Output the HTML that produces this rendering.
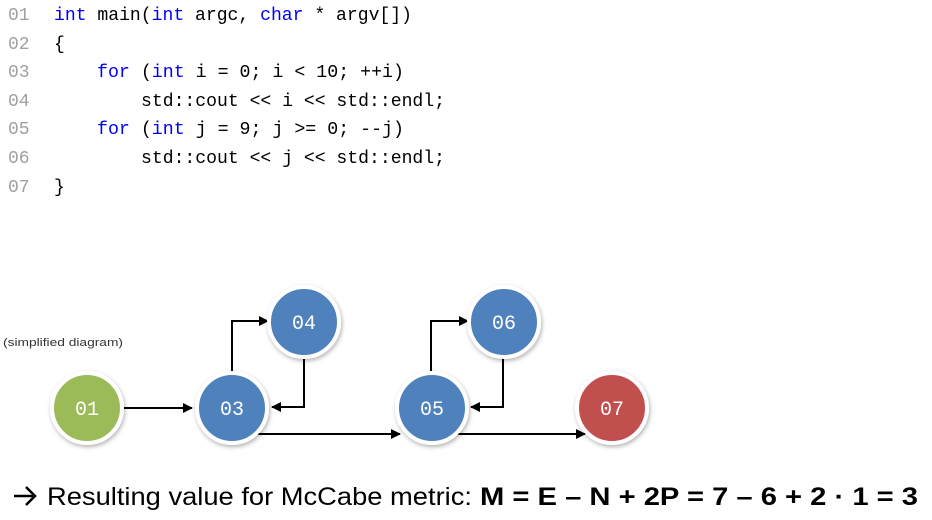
<!DOCTYPE html>
<html><head><meta charset="utf-8"><style>
html,body{margin:0;padding:0;background:#fff;width:932px;height:520px;overflow:hidden}
svg{display:block}
.code{font-family:"Liberation Mono",monospace;font-size:18px;fill:#000}
.ln{fill:#a0a0a0}
.kw{fill:#0000ff}
.nl{font-family:"Liberation Mono",monospace;font-size:20px;fill:#fff}
</style></head><body>
<svg width="932" height="520" viewBox="0 0 932 520" xmlns="http://www.w3.org/2000/svg">
<defs>
<marker id="a" markerWidth="10" markerHeight="10" refX="9" refY="5" orient="auto" markerUnits="userSpaceOnUse">
<path d="M0,0 L10,5 L0,10 z" fill="#000"/></marker>
<filter id="sh" x="-30%" y="-30%" width="160%" height="160%"><feDropShadow dx="1" dy="2" stdDeviation="2" flood-color="#000" flood-opacity="0.3"/></filter>
</defs>
<g class="code">
<text x="8" y="20" class="ln">01</text>
<text x="8" y="49" class="ln">02</text>
<text x="8" y="77" class="ln">03</text>
<text x="8" y="106" class="ln">04</text>
<text x="8" y="134" class="ln">05</text>
<text x="8" y="163" class="ln">06</text>
<text x="8" y="192" class="ln">07</text>
<text x="54" y="20" textLength="358" lengthAdjust="spacingAndGlyphs"><tspan class="kw">int</tspan> main(<tspan class="kw">int</tspan> argc, <tspan class="kw">char</tspan> * argv[])</text>
<text x="54" y="49">{</text>
<text x="97" y="77" textLength="307" lengthAdjust="spacingAndGlyphs"><tspan class="kw">for</tspan> (<tspan class="kw">int</tspan> i = 0; i &lt; 10; ++i)</text>
<text x="141" y="106" textLength="304" lengthAdjust="spacingAndGlyphs">std::cout &lt;&lt; i &lt;&lt; std::endl;</text>
<text x="97" y="134" textLength="307" lengthAdjust="spacingAndGlyphs"><tspan class="kw">for</tspan> (<tspan class="kw">int</tspan> j = 9; j &gt;= 0; --j)</text>
<text x="141" y="163" textLength="304" lengthAdjust="spacingAndGlyphs">std::cout &lt;&lt; j &lt;&lt; std::endl;</text>
<text x="54" y="192">}</text>
</g>
<text x="3" y="346" font-family="Liberation Sans,sans-serif" font-size="11" fill="#333" textLength="120" lengthAdjust="spacingAndGlyphs">(simplified diagram)</text>
<g stroke="#000" stroke-width="2" fill="none">
<path d="M124,408 H192" marker-end="url(#a)"/>
<path d="M232,371 V321 H268" marker-end="url(#a)"/>
<path d="M304,359 V407 H272" marker-end="url(#a)"/>
<path d="M258,434 H400" marker-end="url(#a)"/>
<path d="M431,371 V321 H468" marker-end="url(#a)"/>
<path d="M503,359 V407 H471" marker-end="url(#a)"/>
<path d="M458,434 H585" marker-end="url(#a)"/>
</g>
<g filter="url(#sh)" stroke="#fff" stroke-width="4">
<circle cx="87" cy="408" r="35" fill="#9BBB59"/>
<circle cx="232" cy="408" r="35" fill="#4F81BD"/>
<circle cx="304" cy="322" r="35" fill="#4F81BD"/>
<circle cx="432" cy="408" r="35" fill="#4F81BD"/>
<circle cx="504" cy="322" r="35" fill="#4F81BD"/>
<circle cx="612" cy="408" r="35" fill="#C0504D"/>
</g>
<g class="nl" text-anchor="middle">
<text x="87" y="415">01</text>
<text x="232" y="415">03</text>
<text x="304" y="329">04</text>
<text x="432" y="415">05</text>
<text x="504" y="329">06</text>
<text x="612" y="415">07</text>
</g>
<g stroke="#000" stroke-width="2.5" fill="none"><path d="M14,496 H34 M26,487 L35,496 L26,505"/></g>
<text x="47" y="505" font-family="Liberation Sans,sans-serif" font-size="25" fill="#000" textLength="425" lengthAdjust="spacingAndGlyphs">Resulting value for McCabe metric:</text>
<text x="480" y="505" font-family="Liberation Sans,sans-serif" font-size="25" font-weight="bold" fill="#000" textLength="438" lengthAdjust="spacingAndGlyphs">M = E – N + 2P = 7 – 6 + 2 · 1 = 3</text>
</svg>
</body></html>
